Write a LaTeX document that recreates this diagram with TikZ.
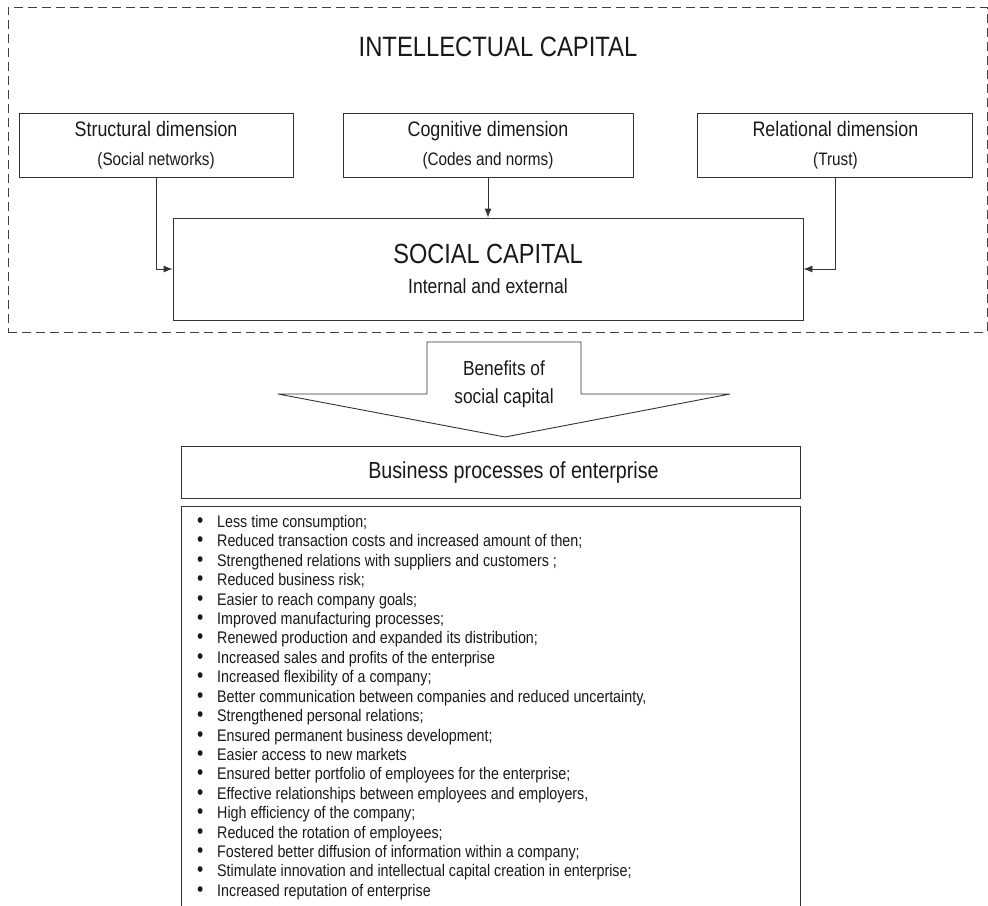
\documentclass[tikz,border=0pt]{standalone}
\usepackage{fontspec}
\setmainfont[FakeStretch=0.85]{Liberation Sans}
\usetikzlibrary{arrows.meta, positioning}

\newcommand{\bitem}{\makebox[20pt][l]{\fontsize{21}{19.42}\selectfont\textbullet}}
\newcommand{\subfont}{\fontsize{18}{22}\selectfont}

\begin{document}
\begin{tikzpicture}[
  x=1pt, y=-1pt,
  line/.style={draw=black!80, line width=0.9pt, text=black!90},
  frame/.style={draw=black!75, line width=0.9pt, dash pattern=on 9pt off 5pt,
              minimum width=979pt, minimum height=325pt, inner sep=0pt},
  dimbox/.style={line, align=center, minimum height=64pt, inner sep=0pt,
              font=\fontsize{21}{26}\selectfont},
  capbox/.style={line, align=center, minimum width=630pt, minimum height=102pt,
              inner sep=0pt},
  headbox/.style={line, minimum width=619pt, minimum height=52pt, inner sep=0pt,
              font=\fontsize{23.2}{28}\selectfont},
  listtext/.style={align=left, inner sep=0pt, text=black!90,
              font=\fontsize{16.8}{19.42}\selectfont},
  arr/.style={-{Latex[length=9pt,width=7pt]}, draw=black!80, line width=0.9pt}]
\useasboundingbox (0,0) rectangle (988,905);
\clip (0,0) rectangle (988,905);
% intellectual capital frame
\node[frame] (icframe) at (497.5,169.5) {};
\node[text=black!90, font=\fontsize{28}{32}\selectfont] (ictitle) at (498,47) {INTELLECTUAL CAPITAL};
\node[dimbox, minimum width=290pt] (cog) at (488,145) {Cognitive dimension\\[3pt]\subfont (Codes and norms)};
\node[dimbox, minimum width=274pt, left=49pt of cog] (struct) {Structural dimension\\[3pt]\subfont (Social networks)};
\node[dimbox, minimum width=275pt, right=64pt of cog] (rel) {Relational dimension\\[3pt]\subfont (Trust)};
\node[capbox, font=\fontsize{27.7}{30}\selectfont] (soc) at (488,269) {SOCIAL CAPITAL\\\fontsize{20.6}{30}\selectfont Internal and external};
\draw[arr] (struct.south) |- (soc.west);
\draw[arr] (cog.south) -- (soc.north);
\draw[arr] (rel.south) |- (soc.east);
% benefits arrow
\coordinate (tip) at (505,437);
\draw[line] (427,342) -- (581,342) -- (581,394) -- (730,394) -- (tip) -- (278,394) -- (427,394) -- cycle;
\node[align=center, text=black!90, font=\fontsize{20.4}{28}\selectfont] (benefits) at (504,384) {Benefits of\\social capital};
% business processes
\node[headbox] (bp) at (490.5,472.5) {\hspace*{46pt}Business processes of enterprise};
\node[line, anchor=north west, minimum width=619pt, minimum height=420pt, inner sep=0pt] (bplist) at (181,506) {};
\node[listtext, anchor=north west] (benefitlist) at (197,515) {%
\bitem Less time consumption;\\
\bitem Reduced transaction costs and increased amount of then;\\
\bitem Strengthened relations with suppliers and customers ;\\
\bitem Reduced business risk;\\
\bitem Easier to reach company goals;\\
\bitem Improved manufacturing processes;\\
\bitem Renewed production and expanded its distribution;\\
\bitem Increased sales and profits of the enterprise\\
\bitem Increased flexibility of a company;\\
\bitem Better communication between companies and reduced uncertainty,\\
\bitem Strengthened personal relations;\\
\bitem Ensured permanent business development;\\
\bitem Easier access to new markets\\
\bitem Ensured better portfolio of employees for the enterprise;\\
\bitem Effective relationships between employees and employers,\\
\bitem High efficiency of the company;\\
\bitem Reduced the rotation of employees;\\
\bitem Fostered better diffusion of information within a company;\\
\bitem Stimulate innovation and intellectual capital creation in enterprise;\\
\bitem Increased reputation of enterprise};
\end{tikzpicture}
\end{document}
